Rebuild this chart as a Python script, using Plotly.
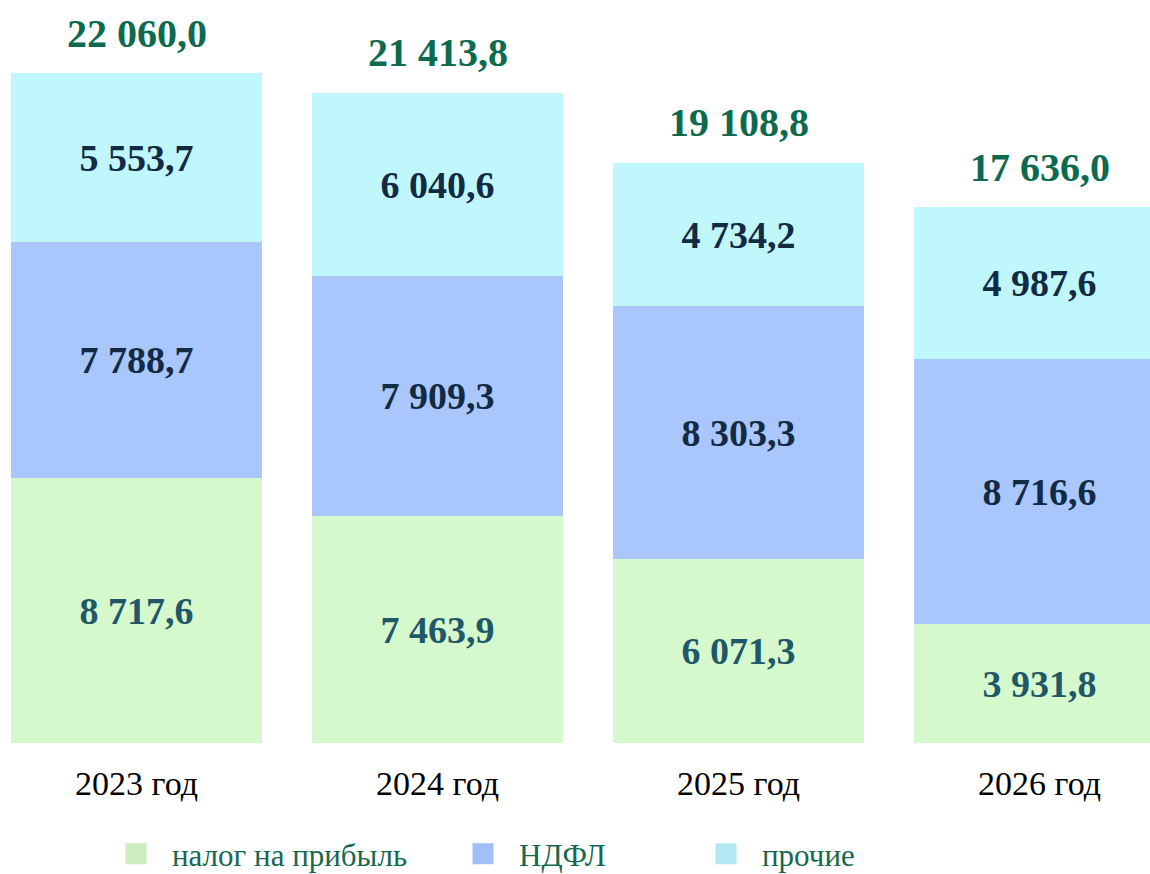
import plotly.graph_objects as go

years = ["2023 год", "2024 год", "2025 год", "2026 год"]
profit_tax = [8717.6, 7463.9, 6071.3, 3931.8]
ndfl = [7788.7, 7909.3, 8303.3, 8716.6]
other = [5553.7, 6040.6, 4734.2, 4987.6]
totals = [22060.0, 21413.8, 19108.8, 17636.0]

series_names = ["налог на прибыль", "НДФЛ", "прочие"]
bar_colors = ["#d6f8cd", "#a9c6fd", "#c0f7fd"]
swatch_colors = ["#cdecc0", "#a2bffb", "#b2e8f2"]
label_colors = ["#1f5868", "#132a45", "#132a45"]


def fmt(v):
    s = f"{v:,.1f}"
    return s.replace(",", " ").replace(".", ",")


xs = list(range(len(years)))
fig = go.Figure()
for name, vals, col, lcol in zip(series_names, [profit_tax, ndfl, other], bar_colors, label_colors):
    fig.add_trace(go.Bar(
        x=xs, y=vals, name=name, marker=dict(color=col, line=dict(width=0)),
        text=[fmt(v) for v in vals], textposition="inside", insidetextanchor="middle",
        textangle=0, constraintext="none",
        textfont=dict(family="Liberation Serif", size=38, color=lcol, weight="bold"),
        width=0.834, showlegend=False, hoverinfo="skip",
    ))

# legend entries (separate legends for free placement)
legend_keys = ["legend", "legend2", "legend3"]
for name, col, lk in zip(series_names, swatch_colors, legend_keys):
    fig.add_trace(go.Scatter(
        x=[None], y=[None], mode="markers", name=name, legend=lk,
        marker=dict(symbol="square", size=16, color=col, line=dict(color=col, width=5)),
    ))

for x, t in zip(xs, totals):
    fig.add_annotation(x=x, y=t, text=fmt(t), showarrow=False, yanchor="middle", yshift=40,
                       font=dict(family="Liberation Serif", size=40, color="#0d6a4e", weight="bold"))

W, H = 1150, 874
plot_bottom = 743
scale = 670 / 22060.0
ytop = plot_bottom / scale
px_per_cat = 301.0
x0 = -136.5 / px_per_cat
x1 = (W - 136.5) / px_per_cat

leg_font = dict(family="Liberation Serif", size=31, color="#14694f")
leg_common = dict(orientation="h", yanchor="middle", xanchor="left", bgcolor="rgba(0,0,0,0)",
                  font=leg_font, itemclick=False, itemdoubleclick=False, itemwidth=62)
ly = (plot_bottom - 854) / plot_bottom

fig.update_layout(
    width=W, height=H, barmode="stack", bargap=0,
    margin=dict(l=0, r=0, t=0, b=H - plot_bottom, pad=0, autoexpand=False),
    plot_bgcolor="white", paper_bgcolor="white",
    xaxis=dict(range=[x0, x1], tickmode="array", tickvals=xs, ticktext=years,
               showgrid=False, zeroline=False, showline=False, ticks="",
               ticklabelstandoff=17, automargin=False,
               tickfont=dict(family="Liberation Serif", size=34, color="#000000")),
    yaxis=dict(range=[0, ytop], visible=False, showgrid=False, zeroline=False, automargin=False),
    legend=dict(x=100 / W, y=ly, **leg_common),
    legend2=dict(x=447 / W, y=ly, **leg_common),
    legend3=dict(x=690 / W, y=ly, **leg_common),
)

fig.write_html("out.html", config={"displayModeBar": False},
               post_script="document.body.style.margin='0';document.body.style.overflow='hidden';")
